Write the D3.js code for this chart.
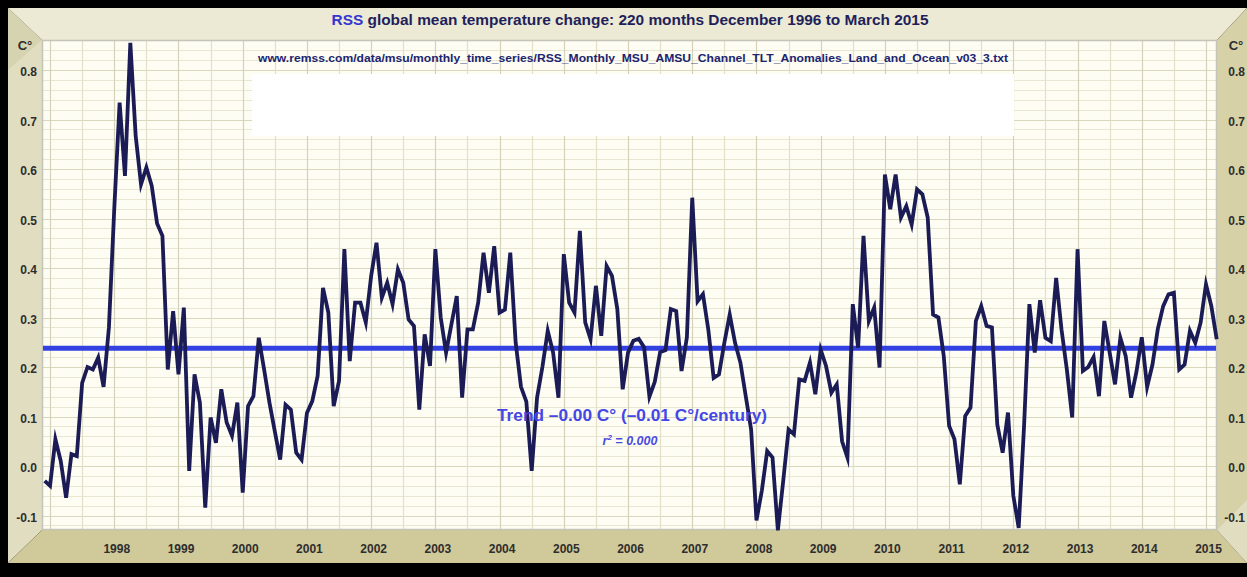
<!DOCTYPE html>
<html><head><meta charset="utf-8">
<script src="https://cdn.jsdelivr.net/npm/d3@7"></script>
<style>html,body{margin:0;padding:0;background:#000;overflow:hidden}svg{display:block}</style>
</head><body>
<svg id="c" width="1247" height="577"></svg>
<script>
// ---------- DATA ----------
const titleLead = "RSS";
const titleRest = " global mean temperature change: 220 months December 1996 to March 2015";
const sourceUrl = "www.remss.com/data/msu/monthly_time_series/RSS_Monthly_MSU_AMSU_Channel_TLT_Anomalies_Land_and_Ocean_v03_3.txt";
const trendLabel = "Trend \u20130.00 C\u00b0 (\u20130.01 C\u00b0/century)";
const r2Parts = ["r", "2", " = 0.000"];
const unitLabel = "C\u00b0";
const yTicks = [-0.1, 0.0, 0.1, 0.2, 0.3, 0.4, 0.5, 0.6, 0.7, 0.8];
const yearLabels = [1998,1999,2000,2001,2002,2003,2004,2005,2006,2007,2008,2009,2010,2011,2012,2013,2014,2015];
const startYear = 1996, startMonth = 12; // first value: December 1996
const trendValue = 0.238;
// monthly anomalies, Dec 1996 .. Mar 2015 (220 months)
const anomalies = [
 -0.03,                                                                          // 1996 Dec
 -0.04, 0.054, 0.01, -0.064, 0.024, 0.02, 0.168, 0.20, 0.195, 0.219, 0.16, 0.28,  // 1997
  0.52, 0.734, 0.586, 0.855, 0.667, 0.569, 0.603, 0.566, 0.49, 0.465, 0.195, 0.313, // 1998
  0.185, 0.32, -0.01, 0.185, 0.128, -0.084, 0.098, 0.047, 0.155, 0.088, 0.061, 0.128, // 1999
 -0.054, 0.121, 0.141, 0.259, 0.195, 0.128, 0.07, 0.013, 0.124, 0.114, 0.027, 0.013, // 2000
  0.107, 0.131, 0.182, 0.36, 0.31, 0.121, 0.172, 0.438, 0.212, 0.33, 0.33, 0.29,     // 2001
  0.384, 0.451, 0.34, 0.37, 0.327, 0.397, 0.37, 0.296, 0.283, 0.114, 0.266, 0.202,   // 2002
  0.438, 0.30, 0.229, 0.286, 0.343, 0.138, 0.276, 0.276, 0.33, 0.431, 0.35, 0.444,   // 2003
  0.31, 0.316, 0.431, 0.25, 0.16, 0.13, -0.01, 0.138, 0.2, 0.273, 0.229, 0.138,      // 2004
  0.428, 0.33, 0.31, 0.475, 0.29, 0.256, 0.364, 0.263, 0.404, 0.384, 0.317, 0.155,   // 2005
  0.229, 0.253, 0.257, 0.24, 0.14, 0.17, 0.23, 0.234, 0.317, 0.313, 0.192, 0.26,     // 2006
  0.542, 0.333, 0.347, 0.276, 0.178, 0.185, 0.249, 0.306, 0.249, 0.209, 0.141, 0.074, // 2007
 -0.11, -0.05, 0.03, 0.017, -0.13, -0.03, 0.074, 0.064, 0.175, 0.172, 0.209, 0.145, // 2008
  0.235, 0.202, 0.148, 0.165, 0.05, 0.017, 0.327, 0.239, 0.465, 0.293, 0.32, 0.199,  // 2009
  0.589, 0.519, 0.589, 0.502, 0.525, 0.488, 0.559, 0.549, 0.502, 0.306, 0.30, 0.222, // 2010
  0.081, 0.054, -0.037, 0.101, 0.118, 0.293, 0.323, 0.283, 0.28, 0.084, 0.027, 0.108, // 2011
 -0.06, -0.125, 0.08, 0.327, 0.229, 0.335, 0.259, 0.252, 0.38, 0.276, 0.195, 0.098, // 2012
  0.438, 0.192, 0.2, 0.22, 0.141, 0.293, 0.229, 0.165, 0.259, 0.222, 0.138, 0.19,   // 2013
  0.26, 0.16, 0.205, 0.277, 0.323, 0.347, 0.35, 0.195, 0.205, 0.273, 0.249, 0.29,    // 2014
  0.367, 0.323, 0.256                                                               // 2015
];

// ---------- LAYOUT ----------
const W = 1247, H = 577;
const F = {x0: 8, y0: 8, x1: 1247, y1: 563};       // beige frame
const P = {x0: 42, y0: 40, x1: 1217, y1: 530};      // plot area
const svg = d3.select("#c");
const font = "'Liberation Sans', Arial, sans-serif";

const x = d3.scaleLinear().domain([0, anomalies.length - 1]).range([44.7, 1216.7]);
const y = d3.scaleLinear().domain([-0.1, 0.8]).range([515.5, 70]);
const idxOfYear = yr => (yr - startYear) * 12 + (1 - startMonth);

// background
svg.append("rect").attr("width", W).attr("height", H).attr("fill", "#000");

// bevelled frame
const bands = [
  {pts: [[F.x0,F.y0],[F.x1,F.y0],[P.x1,P.y0],[P.x0,P.y0]], fill: "#ecead5"},
  {pts: [[F.x0,F.y0],[P.x0,P.y0],[P.x0,P.y1],[F.x0,F.y1]], fill: "#e0ddc0"},
  {pts: [[F.x0,F.y1],[P.x0,P.y1],[P.x1,P.y1],[F.x1,F.y1]], fill: "#d0c99a"},
  {pts: [[F.x1,F.y0],[F.x1,F.y1],[P.x1,P.y1],[P.x1,P.y0]], fill: "#d6d1a7"}
];
svg.selectAll("polygon.band").data(bands).join("polygon")
  .attr("class", "band")
  .attr("points", d => d.pts.map(p => p.join(",")).join(" "))
  .attr("fill", d => d.fill);
// subtle corner shading
svg.append("polygon").attr("points", `${F.x0},${F.y0} ${P.x0},${P.y0} ${F.x0},${P.y0+30}`).attr("fill", "#d2ceaa").attr("opacity", 0.7);
svg.append("polygon").attr("points", `${F.x1},${F.y1} ${P.x1},${P.y1} ${F.x1},${P.y1-30}`).attr("fill", "#e6e3cc").attr("opacity", 0.7);

// plot background
svg.append("rect").attr("x", P.x0).attr("y", P.y0).attr("width", P.x1 - P.x0).attr("height", P.y1 - P.y0)
  .attr("fill", "#fdfdf4");

const grid = svg.append("g");
// horizontal minor grid every 0.02
const hMinor = d3.range(-12, 87, 2).map(v => v / 100);
grid.selectAll("line.hm").data(hMinor).join("line")
  .attr("x1", P.x0).attr("x2", P.x1)
  .attr("y1", d => Math.round(y(d)) + 0.5).attr("y2", d => Math.round(y(d)) + 0.5)
  .attr("stroke", d => (Math.abs(Math.round(d * 100) % 10) === 0) ? "#d9d7bc" : "#e9e7d2")
  .attr("stroke-width", 1);
// vertical grid every 6 months (January & July)
const vIdx = d3.range(1, anomalies.length, 6);
grid.selectAll("line.v").data(vIdx).join("line")
  .attr("y1", P.y0).attr("y2", P.y1)
  .attr("x1", d => Math.round(x(d)) + 0.5).attr("x2", d => Math.round(x(d)) + 0.5)
  .attr("stroke", d => ((d - 1) % 12 === 0) ? "#d4d2b8" : "#e2e0c9")
  .attr("stroke-width", 1.2);

// plot border
svg.append("rect").attr("x", P.x0 + 0.5).attr("y", P.y0 + 0.5).attr("width", P.x1 - P.x0 - 1).attr("height", P.y1 - P.y0 - 1)
  .attr("fill", "none").attr("stroke", "#c4c4b8").attr("stroke-width", 1.5);

// white box behind (blank) annotation area
svg.append("rect").attr("x", 252).attr("y", 74).attr("width", 762).attr("height", 62).attr("fill", "#ffffff");

// title
const title = svg.append("text").attr("x", 630).attr("y", 25).attr("text-anchor", "middle")
  .attr("font-family", font).attr("font-weight", "bold").attr("font-size", 15.3)
  .attr("textLength", 597).attr("lengthAdjust", "spacingAndGlyphs");
title.append("tspan").attr("fill", "#3535cf").text(titleLead);
title.append("tspan").attr("fill", "#1f1f5a").text(titleRest);

// source url
svg.append("text").attr("x", 633).attr("y", 62).attr("text-anchor", "middle")
  .attr("font-family", font).attr("font-weight", "bold").attr("font-size", 10.5)
  .attr("fill", "#202470").attr("textLength", 750).attr("lengthAdjust", "spacingAndGlyphs")
  .text(sourceUrl);

// trend line
svg.append("line").attr("x1", P.x0 + 1).attr("x2", P.x1 - 1)
  .attr("y1", y(trendValue)).attr("y2", y(trendValue))
  .attr("stroke", "#3340e2").attr("stroke-width", 5);

// data line
const line = d3.line().x((d, i) => x(i)).y(d => y(d));
svg.append("path").datum(anomalies).attr("d", line)
  .attr("fill", "none").attr("stroke", "#1b1c55").attr("stroke-width", 3.8)
  .attr("stroke-linejoin", "miter").attr("stroke-miterlimit", 6);

// trend annotation
svg.append("text").attr("x", 632).attr("y", 421).attr("text-anchor", "middle")
  .attr("font-family", font).attr("font-weight", "bold").attr("font-size", 16.5)
  .attr("fill", "#4646e6").attr("textLength", 270).attr("lengthAdjust", "spacingAndGlyphs")
  .text(trendLabel);
const r2 = svg.append("text").attr("x", 630).attr("y", 445).attr("text-anchor", "middle")
  .attr("font-family", font).attr("font-weight", "bold").attr("font-style", "italic").attr("font-size", 12.5)
  .attr("fill", "#4a4ae0");
r2.append("tspan").text(r2Parts[0]);
r2.append("tspan").attr("dy", -5).attr("font-size", 8).text(r2Parts[1]);
r2.append("tspan").attr("dy", 5).text(r2Parts[2]);

// axes (labels only)
const fmt = v => d3.format(".1f")(v).replace("\u2212", "-");
const styleAxis = g => {
  g.select(".domain").remove();
  g.selectAll(".tick line").remove();
  g.selectAll("text").attr("font-family", font).attr("font-weight", "bold")
    .attr("font-size", 12).attr("fill", "#2e2e2e");
};
svg.append("g").attr("transform", "translate(37,2)")
  .call(d3.axisLeft(y).tickValues(yTicks).tickFormat(fmt).tickSize(0).tickPadding(0))
  .call(styleAxis);
svg.append("g").attr("transform", "translate(1245,2)")
  .call(d3.axisRight(y).tickValues(yTicks).tickFormat(fmt).tickSize(0).tickPadding(0))
  .call(styleAxis)
  .call(g => g.selectAll("text").attr("text-anchor", "end"));
svg.append("g").attr("transform", "translate(2,544)")
  .call(d3.axisBottom(x).tickValues(yearLabels.map(idxOfYear)).tickFormat(i => String(startYear + Math.round((i + startMonth - 1) / 12))).tickSize(0).tickPadding(0))
  .call(styleAxis);

// unit labels
[[25, "middle"], [1236, "middle"]].forEach(([ux, anc]) => {
  svg.append("text").attr("x", ux).attr("y", 50).attr("text-anchor", anc)
    .attr("font-family", font).attr("font-weight", "bold").attr("font-size", 13)
    .attr("fill", "#2e2e2e").text(unitLabel);
});
</script>
</body></html>
